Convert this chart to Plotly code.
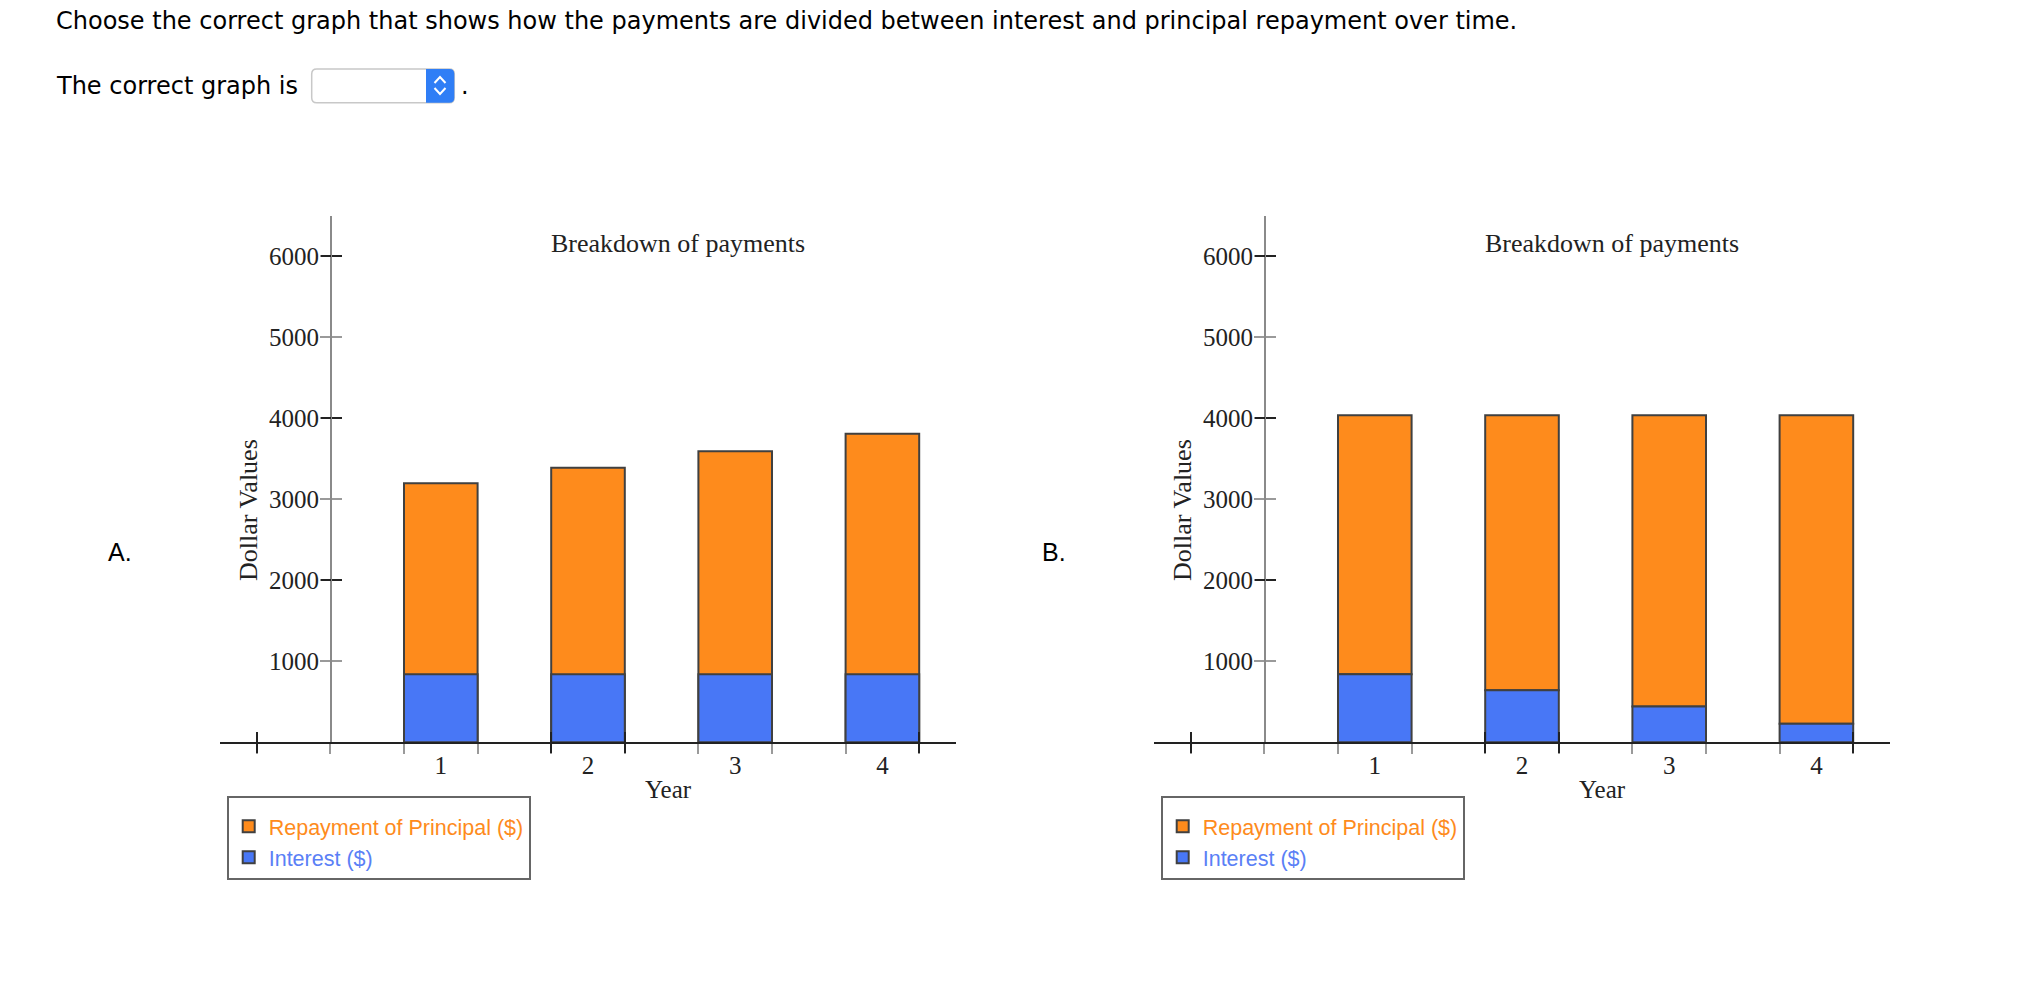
import plotly.graph_objects as go

W, H = 2018, 984

# ---------------- data ----------------
years = [1, 2, 3, 4]
year_labels = ["1", "2", "3", "4"]
interest_A = [840, 840, 840, 840]
principal_A = [3200, 3392, 3596, 3811]
interest_B = [840, 642, 442, 230]
principal_B = [3200, 3398, 3598, 3810]
y_tick_vals = [1000, 2000, 3000, 4000, 5000, 6000]
y_tick_labels = ["1000", "2000", "3000", "4000", "5000", "6000"]
y_dark_ticks = [2000, 4000, 6000]
legend_names = ["Repayment of Principal ($)", "Interest ($)"]

ORANGE = "#FE8B1C"
BLUE = "#4877F6"
LEG_BLUE = "#5A80F6"
OUTLINE = "#404040"
GRAY_TICK = "#9a9a9a"
DARK = "#222222"
SERIF = "Liberation Serif"
SANS = "Liberation Sans"

bar_w = 0.5
edge_ticks = sorted(c + s * bar_w / 2 for c in [0] + years for s in (-1, 1))
dark_edge_ticks = [edge_ticks[i] for i in (0, 4, 5, 9)]


def px(x):
    return x / W


def py(y):
    return 1 - y / H


def ref(n, c):
    return c if n == 1 else f"{c}{n}"


def axkey(n, c):
    return f"{c}axis" if n == 1 else f"{c}axis{n}"


fig = go.Figure()
layout = dict(
    width=W, height=H, autosize=False,
    margin=dict(l=0, r=0, t=0, b=0),
    paper_bgcolor="white", plot_bgcolor="rgba(0,0,0,0)",
    barmode="overlay", showlegend=True,
    annotations=[], shapes=[],
)

ydom = [py(742.3), py(216)]
xr = [-0.5, 4.5]
yr = [0, 6500]

charts = [
    ("A.", 0, principal_A, interest_A, None),
    ("B.", 934, principal_B, interest_B, interest_B),
]

for i, (label, dx, princ, inter, base) in enumerate(charts):
    n = i + 1
    leg = "legend" if i == 0 else "legend2"
    # bars
    fig.add_trace(go.Bar(
        x=years, y=princ, base=base, width=bar_w,
        name=f"<span style='color:{ORANGE}'>{legend_names[0]}</span>",
        marker=dict(color=ORANGE, line=dict(color=OUTLINE, width=2)),
        xaxis=ref(n, "x"), yaxis=ref(n, "y"), legend=leg, hoverinfo="skip",
    ))
    fig.add_trace(go.Bar(
        x=years, y=inter, width=bar_w,
        name=f"<span style='color:{LEG_BLUE}'>{legend_names[1]}</span>",
        marker=dict(color=BLUE, line=dict(color=OUTLINE, width=2)),
        xaxis=ref(n, "x"), yaxis=ref(n, "y"), legend=leg, hoverinfo="skip",
    ))

    common_x = dict(range=xr, showgrid=False, zeroline=False, fixedrange=True)
    common_y = dict(range=yr, showgrid=False, zeroline=False, fixedrange=True,
                    anchor="free", position=px(331 + dx))

    layout[axkey(n, "x")] = dict(
        common_x, domain=[px(220 + dx), px(956 + dx)], anchor=ref(n, "y"),
        showline=True, linecolor=DARK, linewidth=2,
        tickmode="array", tickvals=edge_ticks, ticks="outside", ticklen=10,
        tickwidth=2, tickcolor=GRAY_TICK, showticklabels=False,
    )
    layout[axkey(n, "y")] = dict(
        common_y, domain=ydom, showline=True, linecolor="#8a8a8a", linewidth=2,
        tickmode="array", tickvals=y_tick_vals, ticktext=y_tick_labels,
        ticks="outside", ticklen=10, tickwidth=2, tickcolor=GRAY_TICK,
        ticklabelstandoff=-4,
        tickfont=dict(family=SERIF, size=25, color=DARK),
    )
    # overlay 1: category labels + inside gray y ticks
    n2 = 3 + i
    layout[axkey(n2, "x")] = dict(
        common_x, overlaying=ref(n, "x"), anchor=ref(n2, "y"), showline=False,
        tickmode="array", tickvals=years, ticktext=year_labels,
        ticks="outside", ticklen=1, tickcolor="rgba(0,0,0,0)",
        tickfont=dict(family=SERIF, size=25, color=DARK),
    )
    layout[axkey(n2, "y")] = dict(
        common_y, overlaying=ref(n, "y"), showline=False,
        tickmode="array", tickvals=y_tick_vals, ticks="inside", ticklen=10,
        tickwidth=2, tickcolor=GRAY_TICK, showticklabels=False,
    )
    # overlay 2 & 3: dark crossing ticks
    for n3, side in ((5 + i, "outside"), (7 + i, "inside")):
        layout[axkey(n3, "x")] = dict(
            common_x, overlaying=ref(n, "x"), anchor=ref(n3, "y"), showline=False,
            tickmode="array", tickvals=dark_edge_ticks, ticks=side, ticklen=10,
            tickwidth=2, tickcolor=DARK, showticklabels=False,
        )
        layout[axkey(n3, "y")] = dict(
            common_y, overlaying=ref(n, "y"), showline=False,
            tickmode="array", tickvals=y_dark_ticks, ticks=side, ticklen=10,
            tickwidth=2, tickcolor=DARK, showticklabels=False,
        )
    for nn in (n2, 5 + i, 7 + i):
        fig.add_trace(go.Scatter(x=[], y=[], xaxis=ref(nn, "x"), yaxis=ref(nn, "y"),
                                 showlegend=False, hoverinfo="skip"))

    layout[leg] = dict(
        x=px(226.7 + dx), y=py(796), xanchor="left", yanchor="top",
        bordercolor="#666666", borderwidth=2, bgcolor="white",
        font=dict(family=SANS, size=21.5), traceorder="normal",
        title=dict(text=" ", font=dict(size=6)),
    )

    ann = layout["annotations"]
    ann.append(dict(text="Breakdown of payments", x=px(678 + dx), y=py(243),
                    xref="paper", yref="paper", showarrow=False,
                    xanchor="center", yanchor="middle",
                    font=dict(family=SERIF, size=26, color=DARK)))
    ann.append(dict(text="Year", x=px(668 + dx), y=py(789), xref="paper", yref="paper",
                    showarrow=False, xanchor="center", yanchor="middle",
                    font=dict(family=SERIF, size=25, color=DARK)))
    ann.append(dict(text="Dollar Values", x=px(248 + dx), y=py(510), xref="paper",
                    yref="paper", showarrow=False, textangle=-90,
                    xanchor="center", yanchor="middle",
                    font=dict(family=SERIF, size=26, color=DARK)))
    ann.append(dict(text=label, x=px(106 + dx), y=py(552), xref="paper", yref="paper",
                    showarrow=False, xanchor="left", yanchor="middle",
                    font=dict(family=SANS, size=25, color="black")))

# page text
ann = layout["annotations"]
ann.append(dict(text="Choose the correct graph that shows how the payments are divided between interest and principal repayment over time.",
                x=px(54), y=py(21), xref="paper", yref="paper", showarrow=False,
                xanchor="left", yanchor="middle",
                font=dict(family="DejaVu Sans", size=24, color="black")))
ann.append(dict(text="The correct graph is", x=px(54), y=py(86), xref="paper", yref="paper",
                showarrow=False, xanchor="left", yanchor="middle",
                font=dict(family="DejaVu Sans", size=24, color="black")))
ann.append(dict(text=".", x=px(459), y=py(86), xref="paper", yref="paper",
                showarrow=False, xanchor="left", yanchor="middle",
                font=dict(family="DejaVu Sans", size=24, color="black")))

# dropdown widget
def rrect(x0, y0, x1, y1, r):
    return (f"M {px(x0 + r)} {py(y0)} L {px(x1 - r)} {py(y0)} "
            f"Q {px(x1)} {py(y0)} {px(x1)} {py(y0 + r)} L {px(x1)} {py(y1 - r)} "
            f"Q {px(x1)} {py(y1)} {px(x1 - r)} {py(y1)} L {px(x0 + r)} {py(y1)} "
            f"Q {px(x0)} {py(y1)} {px(x0)} {py(y1 - r)} L {px(x0)} {py(y0 + r)} "
            f"Q {px(x0)} {py(y0)} {px(x0 + r)} {py(y0)} Z")

shapes = layout["shapes"]
shapes.append(dict(type="path", path=rrect(311.7, 69, 454.3, 102.7, 5), xref="paper", yref="paper",
                   fillcolor="white", line=dict(color="#c8c8c8", width=1.5)))
blue_path = (f"M {px(426)} {py(69)} L {px(449.3)} {py(69)} Q {px(454.3)} {py(69)} {px(454.3)} {py(74)} "
             f"L {px(454.3)} {py(97.7)} Q {px(454.3)} {py(102.7)} {px(449.3)} {py(102.7)} "
             f"L {px(426)} {py(102.7)} Z")
shapes.append(dict(type="path", path=blue_path, xref="paper", yref="paper",
                   fillcolor="#2F7EF6", line=dict(width=0)))
shapes.append(dict(type="path", xref="paper", yref="paper",
                   path=f"M {px(434.5)} {py(83)} L {px(440)} {py(77)} L {px(445.5)} {py(83)}",
                   line=dict(color="white", width=2)))
shapes.append(dict(type="path", xref="paper", yref="paper",
                   path=f"M {px(434.5)} {py(88)} L {px(440)} {py(94)} L {px(445.5)} {py(88)}",
                   line=dict(color="white", width=2)))

fig.update_layout(**layout)
fig.write_html("out.html")
